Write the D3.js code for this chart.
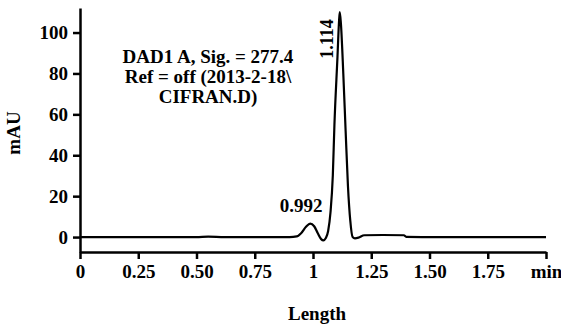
<!DOCTYPE html>
<html><head><meta charset="utf-8">
<script src="https://cdn.jsdelivr.net/npm/d3@7"></script>
<style>body{margin:0;background:#fff}svg{display:block}#c text{font-family:'Liberation Serif' !important;font-weight:bold}</style>
</head><body><svg id="c" width="561" height="329"></svg>
<script>
const times = [0,0.25,0.5,0.55,0.62,0.9,0.93,0.95,0.97,0.988,1.005,1.02,1.035,1.045,1.055,1.065,1.075,1.085,1.092,1.105,1.112,1.115,1.12,1.13,1.14,1.15,1.16,1.17,1.18,1.195,1.22,1.3,1.39,1.40,1.5,2.0];
const signal = [0,0,0,0.2,0,0,0.3,2.0,5.0,6.6,5.3,2.0,-1.0,-1.6,-0.5,3,12,30,55,88,106,110,104,80,52,25,8,0,-0.6,-0.3,0.9,1.0,0.9,0.1,0,0];
const xTicks = [0,0.25,0.5,0.75,1,1.25,1.5,1.75,2];
const xTickLabels = ["0","0.25","0.50","0.75","1","1.25","1.50","1.75","min"];
const yTicks = [0,20,40,60,80,100];
const peakLabels = [{t:0.992,text:"0.992"},{t:1.114,text:"1.114"}];
const noteLines = ["DAD1 A, Sig. = 277.4","Ref = off (2013-2-18\\","CIFRAN.D)"];

const svg = d3.select("#c");
const x = d3.scaleLinear().domain([0,2]).range([80,546]);
const y = d3.scaleLinear().domain([-7.3,112]).range([252,8]);

function ff(sel){ return sel.attr("font-family","Liberation Serif").style("font-family","'Liberation Serif'").style("font-weight","bold"); }

const ya = svg.append("g").attr("transform","translate(80,0)")
  .call(d3.axisLeft(y).tickValues(yTicks).tickSize(7).tickSizeOuter(0).tickFormat(d3.format("d")));
ya.attr("font-family","Liberation Serif");
ya.select(".domain").attr("stroke","#000").attr("stroke-width",2.5);
ya.selectAll(".tick line").attr("stroke-width",2.5);
ff(ya.selectAll(".tick text").style("font-size","19px").attr("x",-12));

const xa = svg.append("g").attr("transform","translate(0,252)")
  .call(d3.axisBottom(x).tickValues(xTicks).tickSize(7).tickSizeOuter(0).tickFormat((d,i)=>xTickLabels[i]));
xa.attr("font-family","Liberation Serif");
xa.select(".domain").attr("stroke-width",2.5);
xa.selectAll(".tick line").attr("stroke-width",2.5);
ff(xa.selectAll(".tick text").style("font-size","19px").attr("y",13));

const line = d3.line().x((d,i)=>x(times[i])).y(d=>y(d)).curve(d3.curveMonotoneX);
svg.append("path").attr("d",line(signal)).attr("fill","none").attr("stroke","#000").attr("stroke-width",2.2);

ff(svg.append("text").attr("x",x(peakLabels[0].t)-10).attr("y",212).attr("text-anchor","middle")
  .style("font-size","19px")).text(peakLabels[0].text);
ff(svg.append("text").attr("transform",`translate(${x(peakLabels[1].t)-6.5},39) rotate(-90)`).attr("text-anchor","middle")
  .style("font-size","18px")).text(peakLabels[1].text);

noteLines.forEach((t,i)=>{
  ff(svg.append("text").attr("x",208).attr("y",63+i*20).attr("text-anchor","middle")
    .style("font-size","19px")).text(t);
});

ff(svg.append("text").attr("x",317).attr("y",320).attr("text-anchor","middle").style("font-size","19px")).text("Length");
ff(svg.append("text").attr("transform","translate(20,133) rotate(-90)").attr("text-anchor","middle").style("font-size","19px")).text("mAU");
</script></body></html>
